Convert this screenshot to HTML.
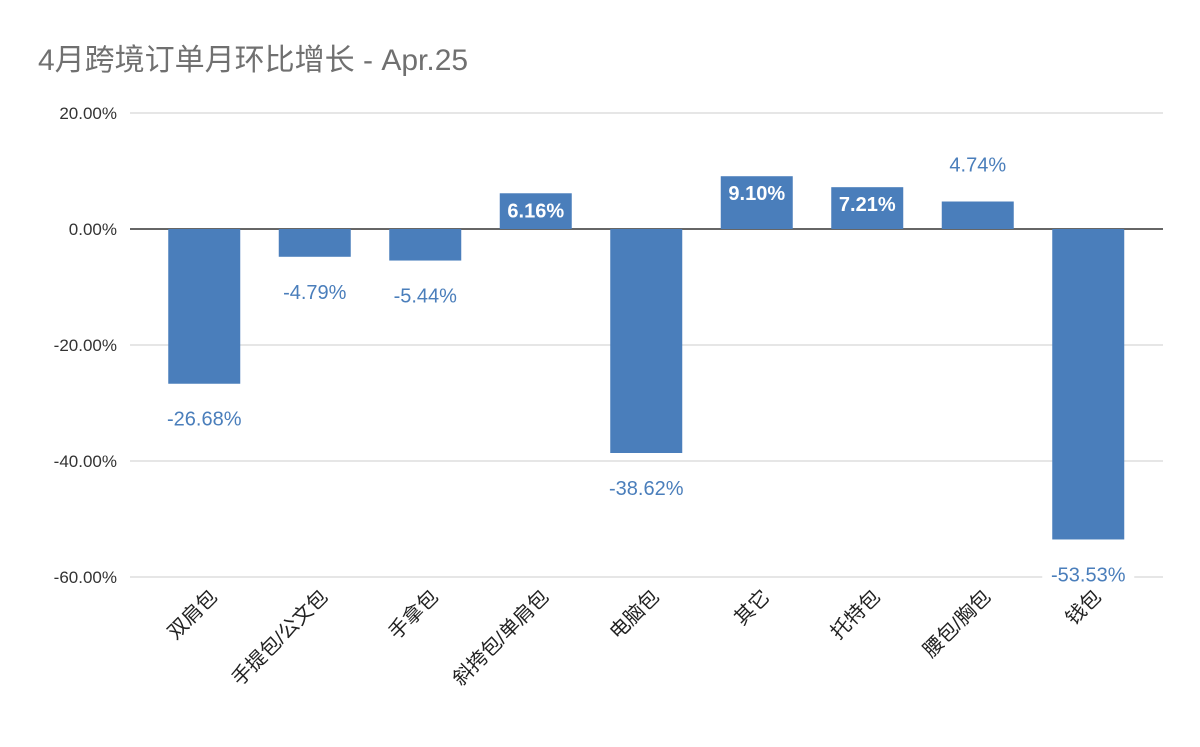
<!DOCTYPE html>
<html><head><meta charset="utf-8"><style>
body{margin:0;background:#fff;}
svg text{font-family:"Liberation Sans","Noto Sans CJK SC",sans-serif;}
</style></head><body>
<svg id="chart" width="1200" height="742" viewBox="0 0 1200 742" xmlns="http://www.w3.org/2000/svg">
<rect width="1200" height="742" fill="#fff"/>
<text x="38" y="70" font-size="30" fill="#707070">4月跨境订单月环比增长 - Apr.25</text>
<g id="grid"></g><g id="bars"></g><g id="labels"></g>
</svg>
<script>
const categories=["双肩包","手提包/公文包","手拿包","斜挎包/单肩包","电脑包","其它","托特包","腰包/胸包","钱包"];
const values=[-26.68,-4.79,-5.44,6.16,-38.62,9.10,7.21,4.74,-53.53];
const ticks=[20,0,-20,-40,-60];
const NS="http://www.w3.org/2000/svg";
const y=v=>229-v*5.8;
const band=110.5, x0=149;
const xc=i=>x0+band*i+band/2;
function mk(t,a,p){const e=document.createElementNS(NS,t);for(const k in a)e.setAttribute(k,a[k]);p.appendChild(e);return e;}
const grid=document.getElementById('grid'),bars=document.getElementById('bars'),labs=document.getElementById('labels');
ticks.forEach(t=>{
 const l=mk('line',{x1:130,x2:1163,y1:y(t),y2:y(t),stroke:t===0?'#333':'#ccc','stroke-width':t===0?1.5:1},grid);
 
 
 const tx=mk('text',{x:117,y:y(t)+6,'text-anchor':'end','font-size':17,fill:'#333'},grid);
 tx.textContent=t.toFixed(2)+'%';
 
 
});
values.forEach((v,i)=>{
 const cx=xc(i),w=72;
 const r=mk('rect',{x:cx-w/2,y:Math.min(y(v),y(0)),width:w,height:Math.abs(y(v)-y(0)),fill:'#4a7ebb'},bars);
 
 
 const txt=v.toFixed(2)+'%';
 let ly,col='#4a7ebb',fw='normal';
 if(v<0){ly=y(v)+42;}
 else if(y(0)-y(v)>28){ly=y(v)+24;col='#fff';fw='bold';}
 else{ly=y(v)-30;}
 if(v<0 && ly>565){mk('rect',{x:cx-46,y:ly-20,width:92,height:26,fill:'#fff'},labs);}
 const t=mk('text',{x:cx,y:ly,'text-anchor':'middle','font-size':20,fill:col,'font-weight':fw},labs);
 t.textContent=txt;
 
 
 const c=mk('text',{transform:`translate(${cx+14},${598}) rotate(-45)`,'text-anchor':'end','font-size':20,fill:'#222'},labs);
 c.textContent=categories[i];
 
 
});
</script>
</body></html>
